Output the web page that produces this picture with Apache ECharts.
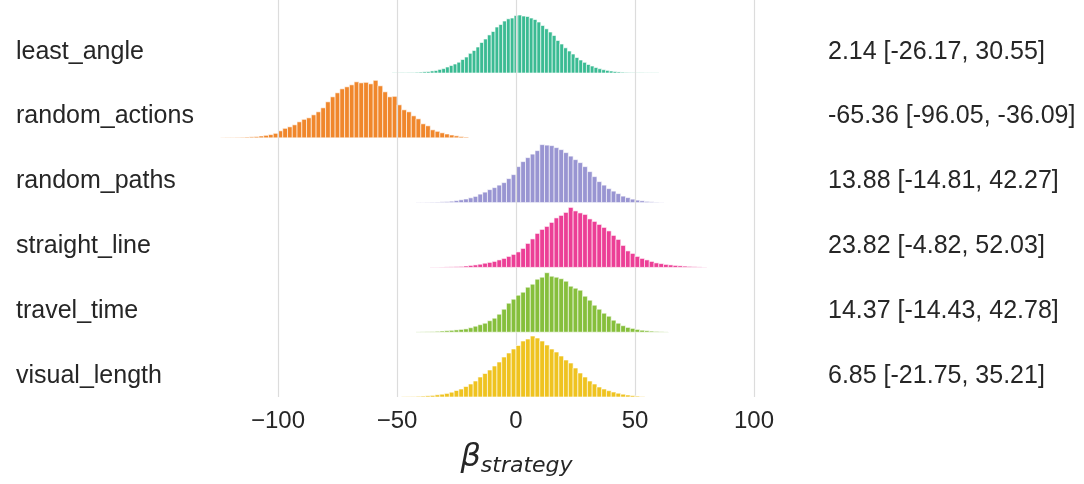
<!DOCTYPE html>
<html>
<head>
<meta charset="utf-8">
<script src="https://cdn.jsdelivr.net/npm/echarts@6/dist/echarts.min.js"></script>
<style>
html,body{margin:0;padding:0;background:#fff;}
#chart{width:1084px;height:484px;}
</style>
</head>
<body>
<div id="chart"></div>
<script>
// ---- data ----
const strategies = ['least_angle', 'random_actions', 'random_paths', 'straight_line', 'travel_time', 'visual_length'];
const annotations = ['2.14 [-26.17, 30.55]', '-65.36 [-96.05, -36.09]', '13.88 [-14.81, 42.27]', '23.82 [-4.82, 52.03]', '14.37 [-14.43, 42.78]', '6.85 [-21.75, 35.21]'];
const binStarts = [-52, -124, -42, -36, -42, -48];
const binWidths = [1.6, 2, 2, 2, 2, 2];
const xTicks = [-100, -50, 0, 50, 100];

const h_least_angle = [0.3,0.3,0.4,0.3,0.5,0.5,0.7,0.9,1.2,1.4,2.1,2.5,3.6,4.4,6.0,7.5,9.0,10.8,13.5,16.0,19.7,22.5,26.0,30.5,34.0,38.1,41.5,46.0,48.5,52.0,54.2,55.0,57.5,58.0,57.0,56.5,55.0,53.5,51.0,47.5,44.2,41.0,37.5,32.5,29.0,25.2,22.0,19.0,15.5,13.0,10.7,8.5,7.0,5.5,4.3,3.3,2.6,2.0,1.5,1.1,0.8,0.6,0.5,0.4,0.3,0.3,0.2,0.2,0.2,0.2];
const h_random_actions = [0.3,0.4,0.4,0.5,0.6,0.8,1.0,1.3,1.8,2.5,3.2,4.5,7,9.5,11,13,16,18.5,20,23,26,30,36,41,45,49,51,53,56,55,55.5,54,57.5,52,46,41,41.5,33,28,26,22,19,14,12,8,6.5,5,3.8,2.8,2,1.3,0.8];
const h_random_paths = [0.3,0.3,0.4,0.5,0.6,0.8,1.0,1.4,2.0,2.8,3.6,4.8,6.2,8.5,10.5,13,15,17.5,20,24,28,36,41,45,48.5,52,58,57.5,57,55,53,50,46.5,43,40,36,31,26,21,17.5,14,11.5,9,6.5,5,3.5,2.5,1.8,1.2,0.8,0.5,0.3];
const h_straight_line = [0.3,0.3,0.4,0.5,0.6,0.8,1.0,1.4,2.0,2.5,3.2,4.2,5.0,6.0,7.5,9,11,13,15.5,19,24,28.5,34,38,41,45,49.5,52,55,60,56.5,54.5,53,48.5,46,43,40,36.5,32,28,22,16.5,14,11,9,7.5,6,4.5,3.8,3.0,2.5,2.0,1.6,1.3,1.0,0.7,0.5,0.3];
const h_travel_time = [0.3,0.4,0.5,0.7,0.9,1.2,1.5,1.9,2.3,2.8,3.3,4.5,6,7.5,9,11.5,14,18,23,29,33,37,40,45,48,53,55,59.5,56,55,53.5,51,46,44,42,36,32,27,23,19,16,12,9,6.5,4.8,3.8,2.8,2.0,1.5,1.1,0.8,0.5,0.3];
const h_visual_length = [0.3,0.4,0.5,0.7,0.9,1.2,1.6,2.2,2.8,3.6,4.8,6.5,8,10.5,13,16,20,23.5,27,31,35,40,44,48,51.5,56,58,61,59,56,52,48,45,41,37,34,29,24,20,16,13,10,8,6.3,5,3.8,2.8,2.0,1.4,0.9,0.5];
const heights = [h_least_angle, h_random_actions, h_random_paths, h_straight_line, h_travel_time, h_visual_length];

// ---- style ----
const colors = ['#3bbb93', '#f0872c', '#9995d2', '#ec3f96', '#86bf3c', '#efc320'];
const ROW_UNIT = 64.8;      // height units per row spacing
const LABEL_OFFSET = 0.33;  // labels sit above each baseline (row units)
const FONT = "'Liberation Sans', Arial, sans-serif";
const TEXT_COLOR = '#262626';
const nRows = strategies.length;

const chart = echarts.init(document.getElementById('chart'), null, {renderer: 'canvas'});

const series = [];
// gridlines via markLine on an empty series
series.push({
  type: 'line', data: [], z: 0, silent: true,
  markLine: {
    symbol: 'none', silent: true, label: {show: false},
    lineStyle: {color: '#dcdcdc', width: 1.2, type: 'solid'},
    data: xTicks.map(v => ({xAxis: v}))
  }
});

strategies.forEach((name, i) => {
  const base = (nRows - 1 - i);
  const data = heights[i].map((h, k) => [binStarts[i] + k * binWidths[i], binStarts[i] + (k + 1) * binWidths[i], h]);
  series.push({
    type: 'custom', name: name, z: 2 + i,
    data: data,
    encode: {x: [0, 1], y: 2},
    renderItem: function (params, api) {
      const x0 = api.value(0), x1 = api.value(1), h = api.value(2);
      const p0 = api.coord([x0, base]);
      const p1 = api.coord([x1, base + h / ROW_UNIT]);
      return {
        type: 'rect',
        shape: {x: p0[0], y: p1[1], width: p1[0] - p0[0], height: p0[1] - p1[1]},
        style: {fill: colors[i], stroke: '#ffffff', lineWidth: 0.6}
      };
    }
  });
});

// row labels and annotations
series.push({
  type: 'custom', z: 10, silent: true,
  data: strategies.map((s, i) => [0, i]),
  encode: {x: 0},
  renderItem: function (params, api) {
    const i = api.value(1);
    const p = api.coord([0, (nRows - 1 - i) + LABEL_OFFSET]);
    return {
      type: 'group',
      children: [
        {type: 'text', x: 16, y: p[1], style: {text: strategies[i], fontSize: 25, fontFamily: FONT, fill: TEXT_COLOR, textAlign: 'left', verticalAlign: 'middle'}},
        {type: 'text', x: 828, y: p[1], style: {text: annotations[i], fontSize: 25, fontFamily: FONT, fill: TEXT_COLOR, textAlign: 'left', verticalAlign: 'middle'}}
      ]
    };
  }
});

chart.setOption({
  animation: false,
  backgroundColor: '#ffffff',
  grid: {left: 159, right: 330, top: 0, bottom: 87, containLabel: false},
  xAxis: {
    type: 'value', min: -150, max: 100, interval: 50,
    axisLine: {show: false}, axisTick: {show: false},
    splitLine: {show: false},
    axisLabel: {
      fontSize: 24, fontFamily: FONT, color: TEXT_COLOR, margin: 12,
      formatter: v => (xTicks.indexOf(v) < 0 ? '' : (v < 0 ? '\u2212' + Math.abs(v) : String(v)))
    },
    name: '{b|β}{s|strategy}',
    nameLocation: 'middle', nameGap: 42,
    nameTextStyle: {
      padding: [0, 0, 0, 120],
      rich: {
        b: {fontSize: 32, fontStyle: 'italic', fontFamily: "'DejaVu Sans', sans-serif", color: TEXT_COLOR},
        s: {fontSize: 22, fontStyle: 'italic', fontFamily: "'DejaVu Sans', sans-serif", color: TEXT_COLOR, padding: [16, 0, 0, 0]}
      }
    }
  },
  yAxis: {type: 'value', min: 0, max: 6.127, show: false},
  series: series
});
</script>
</body>
</html>
